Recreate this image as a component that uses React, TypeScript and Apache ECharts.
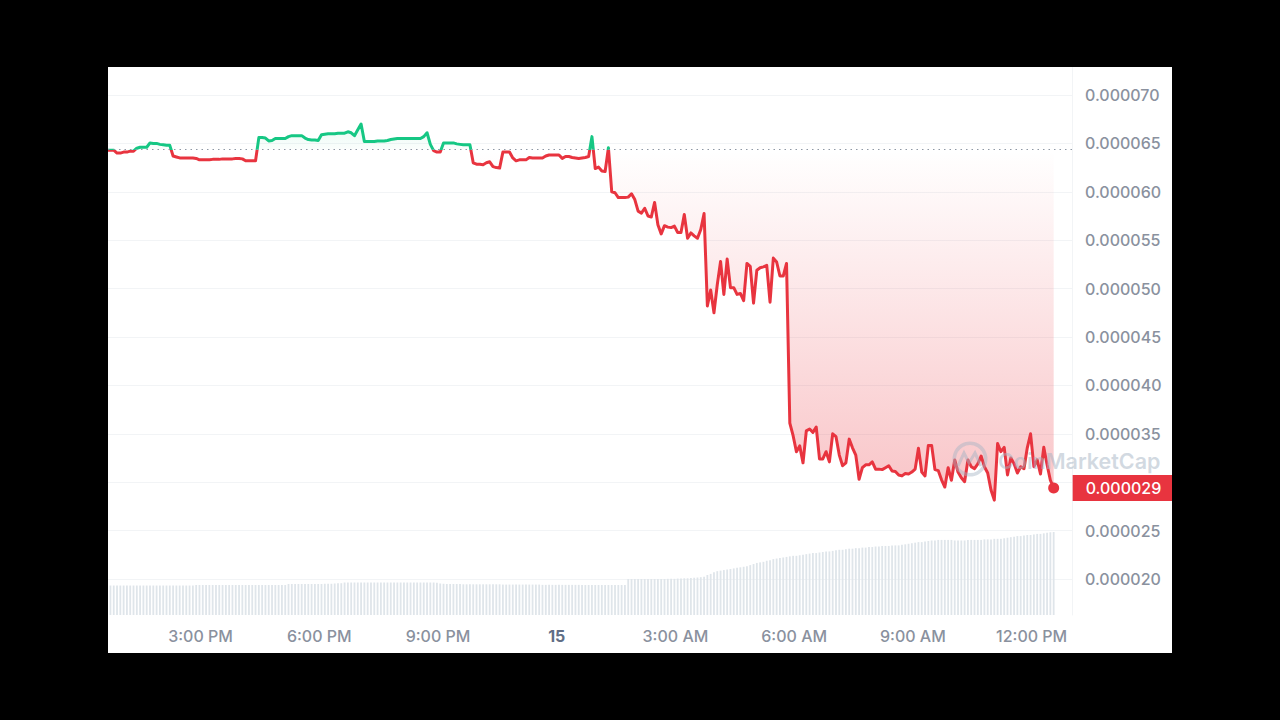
import React, { useEffect, useRef } from 'react';
import * as echarts from 'echarts';

// hours since midnight on the 14th, one sample every 5 minutes
const startHour = 12.64;
const stepHours = 1 / 12;
const axisMinHour = 12.662;
const axisMaxHour = 37.02;

const timeTicks = [15, 18, 21, 24, 27, 30, 33, 36];
const timeLabels = ['3:00 PM', '6:00 PM', '9:00 PM', '15', '3:00 AM', '6:00 AM', '9:00 AM', '12:00 PM'];

// price in millionths of a dollar
const baseline = 64.35;
const prices = [
  64.3, 64.3, 64.3, 64.0, 64.0, 64.1, 64.1, 64.2, 64.2, 64.5, 64.6, 64.6,
  64.6, 65.05, 65.0, 65.0, 64.9, 64.85, 64.8, 64.8, 63.7, 63.6, 63.5, 63.5,
  63.5, 63.5, 63.5, 63.45, 63.3, 63.3, 63.3, 63.3, 63.35, 63.35, 63.35, 63.4,
  63.4, 63.4, 63.4, 63.45, 63.45, 63.4, 63.2, 63.2, 63.2, 63.2, 65.6, 65.6,
  65.55, 65.25, 65.3, 65.5, 65.5, 65.5, 65.5, 65.7, 65.8, 65.8, 65.8, 65.8,
  65.55, 65.4, 65.35, 65.35, 65.3, 65.9, 65.95, 66.0, 66.0, 66.0, 66.05, 66.05,
  66.05, 66.2, 66.1, 65.8, 66.4, 67.0, 65.2, 65.2, 65.2, 65.2, 65.25, 65.25,
  65.25, 65.3, 65.4, 65.45, 65.5, 65.5, 65.5, 65.5, 65.5, 65.5, 65.5, 65.5,
  65.7, 66.1, 64.9, 64.25, 64.1, 64.1, 65.05, 65.05, 65.05, 65.05, 64.95, 64.9,
  64.85, 64.85, 64.85, 63.0, 62.85, 62.85, 62.8, 63.0, 63.1, 62.6, 62.5, 62.45,
  64.1, 64.1, 64.1, 63.5, 63.2, 63.3, 63.3, 63.3, 63.55, 63.5, 63.5, 63.5,
  63.5, 63.7, 63.8, 63.8, 63.8, 63.8, 63.45, 63.65, 63.65, 63.55, 63.5, 63.45,
  63.5, 63.55, 63.65, 65.7, 62.4, 62.55, 62.15, 62.1, 64.55, 60.0, 59.9, 59.4,
  59.4, 59.4, 59.45, 59.8, 59.2, 58.0, 57.8, 58.3, 57.5, 57.4, 58.9, 56.6,
  55.65, 56.5, 56.35, 56.3, 56.45, 55.8, 55.8, 57.65, 55.2, 55.75, 55.45, 55.2,
  56.1, 57.75, 48.2, 49.85, 47.5, 50.4, 52.8, 49.4, 53.05, 50.1, 50.1, 49.4,
  49.5, 48.75, 52.6, 52.3, 48.5, 51.9, 52.15, 52.25, 52.4, 48.6, 53.15, 52.75,
  51.3, 51.3, 52.6, 36.1, 34.8, 33.15, 33.75, 32.0, 35.3, 35.5, 35.15, 35.7,
  32.4, 32.4, 33.15, 32.1, 35.0, 34.7, 32.8, 31.7, 32.0, 34.45, 33.55, 32.8,
  30.3, 31.5, 31.8, 31.8, 32.1, 31.35, 31.35, 31.3, 31.5, 31.7, 31.15, 31.1,
  30.75, 30.65, 30.9, 30.85, 31.05, 31.35, 33.5, 31.05, 30.65, 33.8, 33.8, 31.3,
  31.2, 30.25, 29.5, 31.5, 30.2, 32.3, 31.05, 30.45, 30.05, 32.3, 31.6, 31.4,
  31.9, 32.7, 31.6, 30.95, 29.2, 28.15, 34.0, 33.15, 33.6, 30.75, 32.5, 31.9,
  30.95, 31.6, 31.4, 33.55, 35.0, 31.6, 32.3, 30.85, 33.6, 31.8, 30.2, 29.4,
];

// volume, arbitrary millions
const volumes = [
  5.38, 5.38, 5.38, 5.38, 5.38, 5.38, 5.38, 5.38, 5.38, 5.38, 5.38, 5.38,
  5.38, 5.38, 5.38, 5.38, 5.38, 5.38, 5.38, 5.38, 5.38, 5.38, 5.38, 5.38,
  5.38, 5.38, 5.38, 5.47, 5.47, 5.47, 5.47, 5.47, 5.47, 5.47, 5.47, 5.47,
  5.47, 5.47, 5.47, 5.47, 5.47, 5.47, 5.47, 5.47, 5.47, 5.47, 5.47, 5.47,
  5.47, 5.47, 5.47, 5.47, 5.47, 5.47, 5.47, 5.66, 5.66, 5.66, 5.66, 5.66,
  5.66, 5.66, 5.66, 5.66, 5.66, 5.66, 5.7, 5.7, 5.7, 5.75, 5.8, 5.8,
  5.93, 5.93, 5.93, 5.93, 5.93, 5.93, 5.93, 5.93, 5.93, 5.93, 5.93, 5.93,
  5.93, 5.93, 5.93, 5.93, 5.93, 5.93, 5.93, 5.93, 5.93, 5.93, 5.93, 5.93,
  5.93, 5.93, 5.93, 5.93, 5.9, 5.75, 5.7, 5.66, 5.66, 5.66, 5.66, 5.66,
  5.6, 5.6, 5.6, 5.6, 5.6, 5.6, 5.6, 5.6, 5.6, 5.6, 5.6, 5.6,
  5.55, 5.55, 5.55, 5.55, 5.55, 5.55, 5.55, 5.55, 5.55, 5.55, 5.55, 5.55,
  5.5, 5.5, 5.5, 5.5, 5.5, 5.5, 5.5, 5.5, 5.5, 5.5, 5.5, 5.5,
  5.47, 5.47, 5.47, 5.47, 5.47, 5.47, 5.47, 5.47, 5.47, 5.47, 5.47, 5.47,
  5.47, 5.47, 6.57, 6.57, 6.57, 6.57, 6.57, 6.57, 6.57, 6.57, 6.57, 6.57,
  6.57, 6.57, 6.6, 6.6, 6.6, 6.65, 6.65, 6.7, 6.7, 6.75, 6.8, 6.84,
  6.9, 7.0, 7.3, 7.5, 7.8, 8.0, 8.1, 8.2, 8.3, 8.4, 8.5, 8.6,
  8.7, 8.8, 8.9, 9.1, 9.3, 9.5, 9.6, 9.7, 9.9, 10.0, 10.2, 10.3,
  10.4, 10.5, 10.6, 10.7, 10.8, 10.8, 10.9, 11.0, 11.1, 11.2, 11.3, 11.3,
  11.4, 11.5, 11.6, 11.6, 11.7, 11.8, 11.9, 11.9, 12.0, 12.1, 12.1, 12.2,
  12.2, 12.3, 12.3, 12.4, 12.4, 12.5, 12.5, 12.6, 12.6, 12.6, 12.7, 12.7,
  12.7, 12.8, 12.9, 13.0, 13.1, 13.2, 13.3, 13.3, 13.4, 13.5, 13.6, 13.6,
  13.7, 13.7, 13.7, 13.7, 13.7, 13.6, 13.6, 13.6, 13.6, 13.7, 13.7, 13.7,
  13.7, 13.7, 13.8, 13.8, 13.8, 13.9, 13.9, 13.9, 14.0, 14.1, 14.2, 14.3,
  14.4, 14.4, 14.5, 14.6, 14.6, 14.7, 14.8, 14.8, 14.9, 15.0, 15.1, 15.15,
];

const lastPriceLabel = '0.000029';
const hiddenPriceTick = 30; // sits under the last-price badge
const GREEN = '#16c784';
const RED = '#e8343f';
const FONT = 'Inter';

export default function App() {
  const ref = useRef<HTMLDivElement | null>(null);

  useEffect(() => {
    if (!ref.current) return;
    const chart = echarts.init(ref.current, undefined, { renderer: 'svg' });
    const hourAt = (i: number) => startHour + i * stepHours;
    const lastIndex = prices.length - 1;

    chart.setOption({
      animation: false,
      backgroundColor: '#ffffff',
      textStyle: { fontFamily: FONT },
      grid: [
        { left: 0, width: 964, top: 28, height: 484 },
        { left: 0, width: 964, top: 0, height: 548 },
      ],
      xAxis: [
        { type: 'value', gridIndex: 0, min: axisMinHour, max: axisMaxHour, show: false },
        {
          type: 'value',
          gridIndex: 1,
          min: axisMinHour,
          max: axisMaxHour,
          axisLine: { show: false },
          axisTick: { show: false },
          splitLine: { show: false },
          axisLabel: {
            customValues: timeTicks,
            margin: 13,
            color: '#8a919e',
            fontSize: 16,
            fontWeight: 500,
            fontFamily: FONT,
            formatter: (v: number) => {
              const label = timeLabels[timeTicks.indexOf(v)] ?? '';
              return label === '15' ? `{day|${label}}` : label;
            },
            rich: { day: { fontWeight: 700, color: '#616e85', fontSize: 16, fontFamily: FONT } },
          },
        },
      ],
      yAxis: [
        {
          type: 'value',
          gridIndex: 0,
          position: 'right',
          min: 20,
          max: 70,
          interval: 5,
          axisLine: { show: false },
          axisTick: { show: false },
          splitLine: { lineStyle: { color: '#f2f4f6', width: 1 } },
          axisLabel: {
            margin: 13,
            color: '#8a919e',
            fontSize: 16,
            fontWeight: 500,
            fontFamily: FONT,
            formatter: (v: number) => (v === hiddenPriceTick ? '' : (v / 1e6).toFixed(6)),
          },
        },
        {
          type: 'value',
          gridIndex: 1,
          position: 'right',
          min: 0,
          max: 100,
          axisLine: { show: true, onZero: false, lineStyle: { color: '#f2f4f6', width: 1 } },
          axisTick: { show: false },
          axisLabel: { show: false },
          splitLine: { show: false },
        },
      ],
      visualMap: {
        show: false,
        type: 'piecewise',
        seriesIndex: 1,
        dimension: 1,
        pieces: [
          { gte: baseline, lte: 70, color: GREEN },
          { gte: 20, lt: baseline, color: RED },
        ],
      },
      series: [
        {
          type: 'bar',
          xAxisIndex: 1,
          yAxisIndex: 1,
          barWidth: 1.8,
          itemStyle: { color: '#dfe5ea' },
          data: volumes.map((v, i) => [hourAt(i), v]),
        },
        {
          type: 'line',
          xAxisIndex: 0,
          yAxisIndex: 0,
          showSymbol: false,
          symbol: 'none',
          lineStyle: { width: 3, join: 'round' },
          areaStyle: {
            origin: baseline,
            opacity: 1,
            color: new echarts.graphic.LinearGradient(0, 0, 0, 1, [
              { offset: 0, color: 'rgba(22,199,132,0.1)' },
              { offset: 0.065, color: 'rgba(22,199,132,0.02)' },
              { offset: 0.07, color: 'rgba(234,57,67,0)' },
              { offset: 1, color: 'rgba(234,57,67,0.3)' },
            ]),
          },
          markLine: {
            silent: true,
            symbol: 'none',
            label: { show: false },
            lineStyle: { color: '#8f98a5', type: [1.5, 4], width: 1 },
            data: [{ yAxis: baseline }],
          },
          data: prices.map((p, i) => [hourAt(i), p]),
        },
        {
          type: 'scatter',
          xAxisIndex: 0,
          yAxisIndex: 0,
          symbolSize: 11,
          itemStyle: { color: RED, opacity: 1 },
          label: {
            show: true,
            position: 'right',
            distance: 13.5,
            formatter: lastPriceLabel,
            backgroundColor: RED,
            color: '#ffffff',
            fontSize: 16,
            fontWeight: 500,
            fontFamily: FONT,
            opacity: 1,
            align: 'left',
            padding: [5, 11, 5, 13],
            lineHeight: 16,
          },
          data: [[hourAt(lastIndex), prices[lastIndex]]],
        },
      ],
      graphic: [
        {
          type: 'ring',
          z: 100,
          shape: { cx: 862, cy: 392, r: 17.5, r0: 14 },
          style: { fill: 'rgba(165,180,195,0.45)' },
        },
        {
          type: 'polyline',
          z: 100,
          shape: { points: [[850, 399], [856, 386], [861, 396], [867, 386], [873, 399]] },
          style: { stroke: 'rgba(165,180,195,0.5)', lineWidth: 3, fill: 'none' },
        },
        {
          type: 'text',
          z: 100,
          x: 890,
          y: 394,
          style: {
            text: 'CoinMarketCap',
            fontFamily: FONT,
            fontSize: 21.5,
            fontWeight: 600,
            fill: 'rgba(165,180,195,0.5)',
            textVerticalAlign: 'middle',
          },
        },
      ],
    });

    return () => chart.dispose();
  }, []);

  return (
    <div style={{ position: 'fixed', inset: 0, background: '#000000' }}>
      <div ref={ref} style={{ position: 'absolute', left: 108, top: 67, width: 1064, height: 586 }} />
    </div>
  );
}
